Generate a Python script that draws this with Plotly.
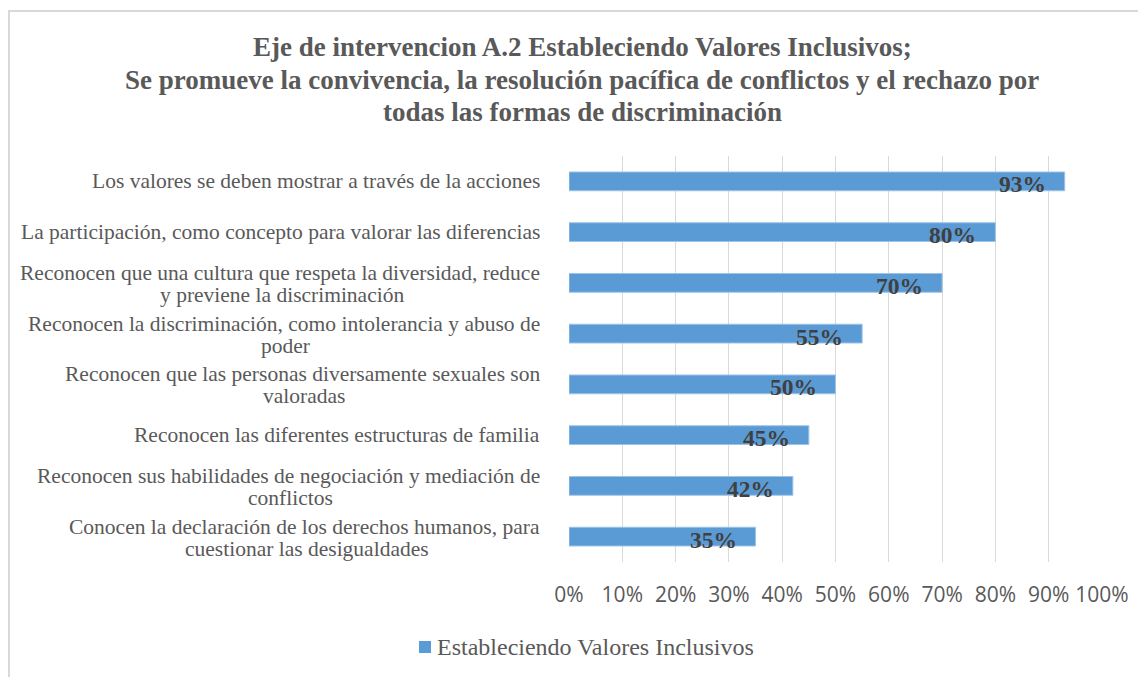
import plotly.graph_objects as go

categories = [
    "Los valores se deben mostrar a través de la acciones",
    "La participación, como concepto para valorar las diferencias",
    "Reconocen que una cultura que respeta la diversidad, reduce<br>y previene la discriminación",
    "Reconocen la discriminación, como intolerancia y abuso de<br>poder",
    "Reconocen que las personas diversamente sexuales son<br>valoradas",
    "Reconocen las diferentes estructuras de familia",
    "Reconocen sus habilidades de negociación y mediación de<br>conflictos",
    "Conocen la declaración de los derechos humanos, para<br>cuestionar las desigualdades",
]
values = [0.93, 0.80, 0.70, 0.55, 0.50, 0.45, 0.42, 0.35]
value_labels = ["93%", "80%", "70%", "55%", "50%", "45%", "42%", "35%"]
series_name = "Estableciendo Valores Inclusivos"
title_lines = [
    "Eje de intervencion A.2 Estableciendo Valores Inclusivos;",
    "Se promueve la convivencia, la resolución pacífica de conflictos y el rechazo por",
    "todas las formas de discriminación",
]
x_ticks = [i / 10 for i in range(11)]
x_tick_labels = [f"{i*10}%" for i in range(11)]

OFF = 8  # page body margin
W, H = 1146 - OFF, 677 - OFF
L, R, T, B = 569 - OFF, 44, 156 - OFF, 115
pw, ph = W - L - R, H - T - B

def px_x(p):  # reference pixel -> paper x
    return (p - OFF - L) / pw

def px_y(p):  # reference pixel -> paper y
    return (H - B - (p - OFF)) / ph

GREY = "#595959"
BLUE = "#5B9BD5"
SERIF = "Liberation Serif, Times New Roman, serif"
SANS = "Open Sans, Liberation Sans, sans-serif"
CAT_SIZE = 21.5

# Times/Liberation Serif advance widths (per 1000 em) to centre wrapped lines
TIMES_W = {
    " ": 250, ",": 250, ".": 250, "a": 444, "b": 500, "c": 444, "d": 500, "e": 444,
    "f": 333, "g": 500, "h": 500, "i": 278, "j": 278, "k": 500, "l": 278, "m": 778,
    "n": 500, "o": 500, "p": 500, "q": 500, "r": 333, "s": 389, "t": 278, "u": 500,
    "v": 500, "w": 722, "x": 500, "y": 500, "z": 444, "á": 444, "é": 444, "í": 278,
    "ó": 500, "ú": 500, "ñ": 500, "C": 667, "R": 667, "L": 611,
}

def text_w(s, size):
    return sum(TIMES_W.get(ch, 500) for ch in s) * size / 1000.0

y_ids = list(range(len(categories)))

fig = go.Figure()
fig.add_trace(go.Bar(
    x=values,
    y=y_ids,
    orientation="h",
    name=series_name,
    marker=dict(color=BLUE, line=dict(color="#9DC3E6", width=1)),
    showlegend=False,
    hoverinfo="skip",
))

annotations = []
cat_font = dict(family=SERIF, size=CAT_SIZE, color=GREY)
RIGHT_SHIFT = -27
for i, c in enumerate(categories):
    if "<br>" in c:
        l1, l2 = c.split("<br>")
        w1 = text_w(l1, CAT_SIZE)
        annotations.append(dict(
            x=0, y=i, xref="x", yref="y", text=l1,
            showarrow=False, xanchor="right", yanchor="middle",
            xshift=RIGHT_SHIFT, yshift=10, font=cat_font,
        ))
        annotations.append(dict(
            x=0, y=i, xref="x", yref="y", text=l2,
            showarrow=False, xanchor="center", yanchor="middle",
            xshift=RIGHT_SHIFT - w1 / 2, yshift=-12, font=cat_font,
        ))
    else:
        annotations.append(dict(
            x=0, y=i, xref="x", yref="y", text=c, showarrow=False,
            xanchor="right", yanchor="middle", xshift=RIGHT_SHIFT,
            font=cat_font,
        ))
# data labels
for i, (v, t) in enumerate(zip(values, value_labels)):
    annotations.append(dict(
        x=v, y=i, xref="x", yref="y", text=f"<b>{t}</b>", showarrow=False,
        xanchor="right", yanchor="middle", xshift=-17, yshift=-3,
        font=dict(family=SERIF, size=23.5, color="#404040"),
    ))
# title
for ln, yp in zip(title_lines, [47, 80, 112]):
    annotations.append(dict(
        x=px_x(582), y=px_y(yp), xref="paper", yref="paper", text=f"<b>{ln}</b>",
        showarrow=False, xanchor="center", yanchor="middle",
        font=dict(family=SERIF, size=27, color=GREY),
    ))
# legend text (manual legend)
annotations.append(dict(
    x=px_x(435), y=px_y(647), xref="paper", yref="paper", text=series_name,
    showarrow=False, xanchor="left", yanchor="middle",
    font=dict(family=SERIF, size=24, color=GREY),
))

shapes = [
    dict(type="rect", xref="paper", yref="paper",
         x0=px_x(9), x1=px_x(1170), y0=px_y(700), y1=px_y(11),
         line=dict(color="#D9D9D9", width=2), fillcolor="rgba(0,0,0,0)", layer="below"),
    dict(type="rect", xref="paper", yref="paper",
         x0=px_x(419), x1=px_x(431), y0=px_y(653), y1=px_y(641),
         line=dict(width=0), fillcolor=BLUE),
]

fig.update_layout(
    width=W, height=H,
    margin=dict(l=L, r=R, t=T, b=B, pad=0),
    paper_bgcolor="white", plot_bgcolor="white",
    showlegend=False,
    bargap=0.63,
    xaxis=dict(
        range=[0, 1], tickvals=x_ticks, ticktext=x_tick_labels,
        showgrid=True, gridcolor="#D9D9D9", gridwidth=1,
        zeroline=False, showline=False, ticks="",
        tickfont=dict(family=SANS, size=21, color=GREY),
        ticklabelstandoff=18, fixedrange=True, automargin=False,
    ),
    yaxis=dict(
        range=[len(categories) - 0.5, -0.5], showticklabels=False, showgrid=False,
        zeroline=False, showline=False, ticks="", fixedrange=True,
        tickvals=y_ids, automargin=False,
    ),
    annotations=annotations,
    shapes=shapes,
)

fig.write_html("out.html")
